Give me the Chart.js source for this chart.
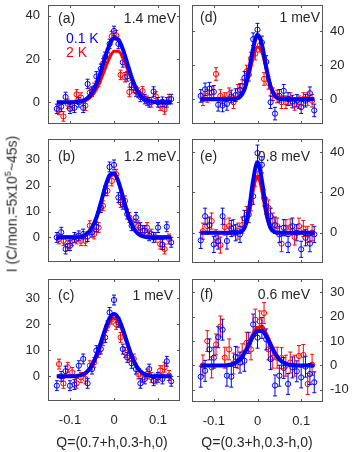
<!DOCTYPE html>
<html lang="en">
<head>
  <meta charset="UTF-8" />
  <title>Q scans at 0.1 K and 2 K</title>
  <script src="https://cdn.jsdelivr.net/npm/chart.js"></script>
  <style>
    body { margin: 0; background: #fff; }
    #wrap { position: relative; width: 354px; height: 452px; overflow: hidden; }
    #wrap canvas { position: absolute; left: 0; top: 0; }
    .t { position: absolute; z-index: 2; font: 14px "Liberation Sans", Arial, sans-serif; color: #262626; white-space: nowrap; line-height: 1; }
    .r { transform: translateX(-100%); }
    .c { transform: translate(-50%, -50%); }
  </style>
</head>
<body>
  <div id="wrap">
    <div class="t" style="left:58px;top:11px">(a)</div>
    <div class="t r" style="left:176px;top:11px">1.4 meV</div>
    <div class="t" style="left:66px;top:31px;color:#0000ff">0.1 K</div>
    <div class="t" style="left:66px;top:45px;color:#ff0000">2 K</div>
    <div class="t" style="left:58px;top:149px">(b)</div>
    <div class="t r" style="left:176px;top:149px">1.2 meV</div>
    <div class="t" style="left:58px;top:288px">(c)</div>
    <div class="t r" style="left:173px;top:288px">1 meV</div>
    <div class="t" style="left:200px;top:10px">(d)</div>
    <div class="t r" style="left:320px;top:10px">1 meV</div>
    <div class="t" style="left:200px;top:149px">(e)</div>
    <div class="t r" style="left:310px;top:149px">0.8 meV</div>
    <div class="t" style="left:200px;top:287px">(f)</div>
    <div class="t r" style="left:310px;top:287px">0.6 meV</div>
    <div class="t c" style="left:112px;top:442px">Q=(0.7+h,0.3-h,0)</div>
    <div class="t c" style="left:257px;top:442px">Q=(0.3+h,0.3-h,0)</div>
    <div class="t" style="left:11px;top:204px;transform:translate(-50%,-50%) rotate(-90deg)">I (C/mon.=5x10<sup style="font-size:9px">5</sup>~45s)</div>
  </div>

  <script>
    // x positions of the points (0.1 K and 2 K scans are offset by half a step)
    const blueX = [-0.13, -0.12, -0.11, -0.10, -0.09, -0.08, -0.07, -0.06, -0.05, -0.04, -0.03, -0.02, -0.01, 0,
                   0.01, 0.02, 0.03, 0.04, 0.05, 0.06, 0.07, 0.08, 0.09, 0.10, 0.11, 0.12, 0.13];
    const redX = [-0.125, -0.115, -0.105, -0.095, -0.085, -0.075, -0.065, -0.055, -0.045, -0.035, -0.025, -0.015, -0.005,
                  0.005, 0.015, 0.025, 0.035, 0.045, 0.055, 0.065, 0.075, 0.085, 0.095, 0.105, 0.115, 0.125];
    const fitX = blueX;
    const xTicks = [-0.1, 0, 0.1];

    // (a) 1.4 meV
    const blueA = [-3, -2, 2.5, -3, -2.5, 0, -2.5, 8.5, 5, 12, 15.5, 21, 27, 33, 27, 18.5, 12, 8, 5, 2.5, 1.5, 0, 5, 0, 0.3, 0, 1.5];
    const redA = [-3.5, -6.5, -0.7, -1.5, 3.7, 2.2, -1.5, 4.5, 6.7, 9.4, 18, 22.4, 30.6, 31, 12.7, 11.6, 4.8, 6.7, 4.5, 5.2, 0.7, 0, 2.7, -1.5, -3.3, 1.5];
    const fitBlueA = [0, 0, 0, 0, 0.1, 0.3, 0.8, 2.0, 4.4, 8.4, 14.2, 20.9, 26.7, 29.8, 29, 24.6, 18.2, 11.7, 6.6, 3.2, 1.4, 0.5, 0.2, 0, 0, 0, 0];
    const fitRedA = [0, 0, 0, 0, 0.1, 0.2, 0.5, 1.3, 3.0, 6.0, 10.4, 15.6, 20.6, 23.6, 23.6, 20.6, 15.6, 10.4, 6.0, 3.0, 1.3, 0.5, 0.2, 0, 0, 0, 0];
    const errA = [2.2, 2.2];
    const yTicksA = [0, 20, 40];

    // (b) 1.2 meV
    const blueB = [0, 2, -4.5, -3.2, 0, 0.6, 1.3, 0.3, 2, 4.1, 11.5, 18, 27.2, 28, 15.4, 12.8, 9, 4.5, 7.7, 3.8, 2.6, 0.6, 0, 3.8, -2.8, 4.1, -1.9];
    const redB = [-0.6, -1.3, -3.2, -1.3, -0.6, -1.3, -1.3, 4.5, 1.3, 3.8, 12.2, 18, 21.8, 24.4, 13.5, 14.1, 7.7, 5.1, 4.5, 2.6, 3.8, 1.3, 0, -2.6, -4.5, -0.6];
    const fitBlueB = [0, 0, 0, 0, 0, 0.1, 0.5, 1.5, 3.7, 7.6, 13.3, 19.5, 24, 24.8, 21.6, 15.8, 9.7, 5, 2.2, 0.8, 0.2, 0, 0, 0, 0, 0, 0];
    const fitRedB = [0.3, 0.3, 0.3, 0.3, 0.3, 0.4, 0.8, 1.8, 3.9, 7.7, 13.2, 19.2, 23.6, 24.3, 21.3, 15.6, 9.7, 5.1, 2.4, 1.1, 0.5, 0.3, 0.3, 0.3, 0.3, 0.3, 0.3];
    const errB = [1.9, 1.9];
    const yTicksB = [0, 10, 20, 30];

    // (c) 1 meV
    const blueC = [-3.6, 0, 2, -3.6, -3.2, 4.1, 6.7, -2.7, 2.8, 9.9, 10.5, 15, 24.6, 29.4, 20.8, 10.5, 7.3, 5, 2.8, -2.7, -1, 2.8, -1.7, -0.4, -1, 5.8, -1.9];
    const redC = [4.7, -2.7, 3.5, 1.5, -2.7, -0.4, -1, 4.1, 5.4, 9.2, 13.7, 19.5, 22, 20, 15, 9.2, 7.9, 6.7, 0.9, -0.4, 0.9, -0.4, -1, 2.2, 3.5, 0.3];
    const fitBlueC = [0, 0, 0, 0, 0, 0.3, 0.8, 2.0, 4.3, 8.0, 13.0, 18.2, 22.4, 24, 22.4, 18.2, 13.0, 8.0, 4.3, 2.0, 0.8, 0.3, 0, 0, 0, 0, 0];
    const fitRedC = [0, 0, 0, 0, 0, 0.3, 0.8, 1.9, 4.0, 7.5, 12.2, 17.1, 21, 22.5, 21, 17.1, 12.2, 7.5, 4.0, 1.9, 0.8, 0.3, 0, 0, 0, 0, 0];
    const errC = [1.9, 1.9];
    const yTicksC = [0, 10, 20, 30];

    // (d) 1 meV
    const blueD = [2, 5.9, 6.3, 4.4, -3.2, -3.6, -2.7, 1.7, 2.5, 5.5, 12.6, 14.5, 35.4, 41, 33.5, 22, -1.7, -8.4, 2.1, 5, 0.2, -1.3, -0.8, -4.6, -0.8, 3.6, -6.5];
    const redD = [0, 2, 4, 14.9, 2, 0.2, 3, -1.7, 5, 7.8, 16.4, 24, 26.9, 31.6, 12, 9.7, 3, 1.7, -1.7, -1.7, 0.2, -2.7, -1.7, 0.2, 0.2, -0.8];
    const fitBlueD = [0, 0, 0, 0, 0, 0, 0, 0, 0.2, 1.4, 5.8, 16.1, 30, 38, 32.4, 18.8, 7.4, 1.9, 0.3, 0, 0, 0, 0, 0, 0, 0, 0];
    const fitRedD = [0.5, 0.5, 0.5, 0.5, 0.5, 0.5, 0.5, 0.5, 0.8, 1.9, 5.7, 13.7, 24.3, 30.8, 27.8, 17.9, 8.3, 3.0, 1.1, 0.6, 0.5, 0.5, 0.5, 0.5, 0.5, 0.5, 0.5];
    const errD = [3.7, 3.7];
    const yTicksD = [0, 20, 40];

    // (e) 0.8 meV
    const blueE = [-3.8, 8.2, 3.8, -5.8, -4.1, 8.2, -4.1, 2.1, 0, -0.8, 7.1, 9, 18.1, 39.5, 33.7, 13.2, 8.2, 3.8, -0.8, 2.5, -5.8, 3.3, 0, -8.2, -2.5, -5.4, -0.8];
    const redE = [0.8, 3.3, 5.8, -2.5, -6.1, 2.8, 3.3, 2.5, 0.8, 3.8, 9, 14.8, 27.1, 29.6, 17.3, 12.3, 5.8, 3.3, -5.4, 2.5, 2.8, -2.1, 3.3, 2.1, -0.8, 0];
    const fitBlueE = [0, 0, 0, 0, 0, 0, 0, 0, 0, 0.3, 2.4, 10.7, 26, 35, 26, 10.7, 2.4, 0.3, 0, 0, 0, 0, 0, 0, 0, 0, 0];
    const fitRedE = [0, 0, 0, 0, 0, 0, 0, 0, 0, 0.2, 1.9, 8.6, 20.8, 28, 20.8, 8.6, 1.9, 0.2, 0, 0, 0, 0, 0, 0, 0, 0, 0];
    const errE = [4, 4];
    const yTicksE = [0, 20, 40];

    // (f) 0.6 meV
    const blueF = [-4.6, -2.2, 6.6, 3.2, 11.6, 14.7, -4.2, -4.6, 3.5, 1.2, 1.9, 9.3, 16.8, 11.4, 15.4, 10.7, 2.6, -8.2, -4.2, -1, -7.6, -0.8, -2.4, -4.9, -0.5, -3.5, -6.9];
    const redF = [0, 10, -0.8, 8.6, 16, 3.2, 6.6, 0.8, 3.2, 4.6, 9.3, 6.6, 18.8, 18.1, 21.5, 6.6, 3.2, 3.2, 3, -0.1, 1.2, -0.1, 3.9, 4.3, -7.6, 0.3];
    const fitBlueF = [0, 0, 0, 0, 0, 0, 0.1, 0.4, 1.1, 2.5, 5.0, 8.4, 12, 14.2, 14.2, 12, 8.4, 5.0, 2.5, 1.1, 0.4, 0.1, 0, 0, 0, 0, 0];
    const fitRedF = [0, 0, 0, 0, 0, 0, 0.1, 0.4, 1.2, 2.8, 5.5, 9.3, 13.2, 15.7, 15.7, 13.2, 9.3, 5.5, 2.8, 1.2, 0.4, 0.1, 0, 0, 0, 0, 0];
    const errF = [4.3, 4.3];
    const yTicksF = [-10, 0, 10, 20, 30];

    const BLUE = '#0000ff', RED = '#ff0000', INK = '#262626';
    const W = 354, H = 452;
    const YW = 30, XH = 30;   // room kept for tick labels
    const tickFont = { family: '"Liberation Sans", Arial, sans-serif', size: 13 };

    // panel boxes are [left, top, right, bottom] in page pixels
    const panels = [
      { box: [48, 2, 180, 124], y: [-10, 45], yTicks: yTicksA, side: 'left', showX: false, blue: blueA, red: redA, fitB: fitBlueA, fitR: fitRedA, err: errA },
      { box: [48, 139, 180, 262], y: [-9.5, 38], yTicks: yTicksB, side: 'left', showX: false, blue: blueB, red: redB, fitB: fitBlueB, fitR: fitRedB, err: errB },
      { box: [48, 279, 180, 401], y: [-9.5, 37.5], yTicks: yTicksC, side: 'left', showX: true, blue: blueC, red: redC, fitB: fitBlueC, fitR: fitRedC, err: errC },
      { box: [192, 2, 323, 124], y: [-14.5, 55.5], yTicks: yTicksD, side: 'right', showX: false, blue: blueD, red: redD, fitB: fitBlueD, fitR: fitRedD, err: errD },
      { box: [192, 139, 323, 263], y: [-15, 46.5], yTicks: yTicksE, side: 'right', showX: false, blue: blueE, red: redE, fitB: fitBlueE, fitR: fitRedE, err: errE },
      { box: [192, 279, 323, 402], y: [-15, 35.5], yTicks: yTicksF, side: 'right', showX: true, blue: blueF, red: redF, fitB: fitBlueF, fitR: fitRedF, err: errF },
    ];

    const errorBars = {
      id: 'errorBars',
      beforeDatasetDraw(chart, args) {
        const ds = chart.data.datasets[args.index];
        if (ds.err == null) return;
        const { ctx, chartArea: a, scales: { x, y } } = chart;
        ctx.save();
        ctx.beginPath();
        ctx.rect(a.left, a.top, a.width, a.height);
        ctx.clip();
        ctx.strokeStyle = ds.borderColor;
        ctx.lineWidth = 1;
        ctx.beginPath();
        ds.data.forEach(p => {
          const px = x.getPixelForValue(p.x);
          const lo = y.getPixelForValue(p.y - ds.err), hi = y.getPixelForValue(p.y + ds.err);
          ctx.moveTo(px, lo); ctx.lineTo(px, hi);
          ctx.moveTo(px - 2, lo); ctx.lineTo(px + 2, lo);
          ctx.moveTo(px - 2, hi); ctx.lineTo(px + 2, hi);
        });
        ctx.stroke();
        ctx.restore();
      }
    };

    // box with inward ticks on all four sides
    const frame = {
      id: 'frame',
      afterDatasetsDraw(chart) {
        const { ctx, chartArea: a, scales: { x, y } } = chart;
        ctx.save();
        ctx.strokeStyle = '#555';
        ctx.lineWidth = 1;
        ctx.strokeRect(a.left + 0.5, a.top + 0.5, a.width - 1, a.height - 1);
        ctx.beginPath();
        x.ticks.forEach(t => {
          const px = Math.round(x.getPixelForValue(t.value)) + 0.5;
          ctx.moveTo(px, a.bottom); ctx.lineTo(px, a.bottom - 3);
          ctx.moveTo(px, a.top); ctx.lineTo(px, a.top + 3);
        });
        y.ticks.forEach(t => {
          const py = Math.round(y.getPixelForValue(t.value)) + 0.5;
          ctx.moveTo(a.left, py); ctx.lineTo(a.left + 3, py);
          ctx.moveTo(a.right, py); ctx.lineTo(a.right - 3, py);
        });
        ctx.stroke();
        ctx.restore();
      }
    };

    const wrap = document.getElementById('wrap');
    panels.forEach(p => {
      const [L, T, R, B] = p.box;
      const left = p.side === 'left';
      const fix = s => {
        if (s.isHorizontal()) s.height = p.showX ? XH : 0; else s.width = YW;
        s.paddingLeft = s.paddingRight = s.paddingTop = s.paddingBottom = 0;
      };
      const cv = document.createElement('canvas');
      cv.width = W; cv.height = H;
      wrap.appendChild(cv);
      new Chart(cv, {
        type: 'line',
        data: {
          datasets: [
            { data: fitX.map((x, i) => ({ x, y: p.fitB[i] })), borderColor: BLUE, borderWidth: 4, pointRadius: 0, cubicInterpolationMode: 'monotone' },
            { data: fitX.map((x, i) => ({ x, y: p.fitR[i] })), borderColor: RED, borderWidth: 3, pointRadius: 0, cubicInterpolationMode: 'monotone' },
            { data: blueX.map((x, i) => ({ x, y: p.blue[i] })), showLine: false, borderColor: BLUE, backgroundColor: 'transparent', pointRadius: 2.6, pointBorderWidth: 1, err: p.err[0] },
            { data: redX.map((x, i) => ({ x, y: p.red[i] })), showLine: false, borderColor: RED, backgroundColor: 'transparent', pointRadius: 2.6, pointBorderWidth: 1, err: p.err[1] },
          ]
        },
        options: {
          responsive: false,
          animation: false,
          events: [],
          layout: {
            padding: {
              left: left ? L - YW : L,
              right: left ? W - R : W - R - YW,
              top: T,
              bottom: p.showX ? H - B - XH : H - B
            }
          },
          plugins: { legend: { display: false }, tooltip: { enabled: false } },
          scales: {
            x: {
              type: 'linear', min: -0.15, max: 0.15,
              grid: { display: false, drawTicks: false }, border: { display: false },
              afterBuildTicks: s => { s.ticks = xTicks.map(v => ({ value: v })); },
              afterFit: fix,
              ticks: { display: p.showX, padding: 12, color: INK, font: tickFont, maxRotation: 0, autoSkip: false, callback: v => String(v) }
            },
            y: {
              type: 'linear', position: p.side, min: p.y[0], max: p.y[1],
              grid: { display: false, drawTicks: false }, border: { display: false },
              afterBuildTicks: s => { s.ticks = p.yTicks.map(v => ({ value: v })); },
              afterFit: fix,
              ticks: { padding: left ? 8 : 7, color: INK, font: tickFont, callback: v => String(v) }
            }
          }
        },
        plugins: [errorBars, frame]
      });
    });
  </script>
</body>
</html>
